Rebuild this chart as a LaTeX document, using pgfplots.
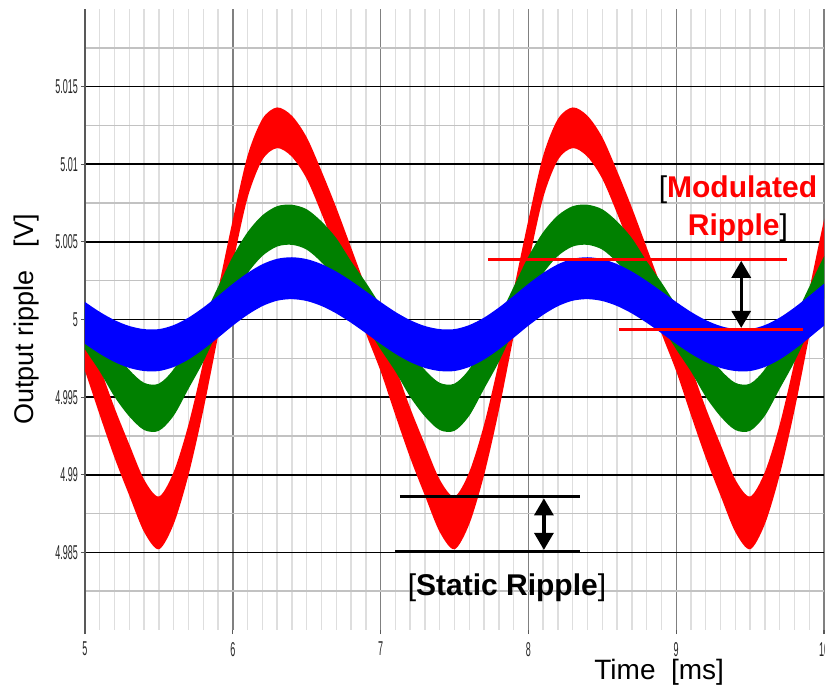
\documentclass[border=0pt]{standalone}
\usepackage{fontspec}
\setmainfont{Liberation Sans}
\usepackage{pgfplots}
\pgfplotsset{compat=1.18}
\usepackage{pgfplotstable}
\usepgfplotslibrary{fillbetween}
\usetikzlibrary{arrows.meta}

% x [ms]; upper / lower envelope of each ripple band [V]
\pgfplotstableread{
x    ru      rl      gu      gl      bu      bl
4.9  5.00209 4.99911 5.00239 4.99961 5.00182 4.99912
5.0  4.99973 4.99667 5.00092 4.99808 5.00113 4.99843
5.1  4.99697 4.99383 4.99955 4.99665 5.00049 4.99779
5.2  4.99431 4.99109 4.99798 4.99502 4.99996 4.99726
5.3  4.99195 4.98865 4.99675 4.99375 4.99958 4.99688
5.4  4.98969 4.98631 4.99592 4.99288 4.99938 4.99668
5.5  4.98860 4.98520 4.99587 4.99283 4.99938 4.99668
5.6  4.99018 4.98682 4.99680 4.99380 4.99964 4.99694
5.7  4.99323 4.98997 4.99847 4.99553 5.00012 4.99742
5.8  4.99727 4.99413 5.00013 4.99727 5.00077 4.99807
5.9  5.00189 4.99891 5.00210 4.99930 5.00152 4.99882
6.0  5.00642 5.00358 5.00406 5.00134 5.00230 4.99960
6.1  5.01056 5.00784 5.00563 5.00297 5.00300 5.00030
6.2  5.01292 5.01028 5.00671 5.00409 5.00356 5.00086
6.3  5.01366 5.01104 5.00730 5.00470 5.00391 5.00121
6.4  5.01312 5.01048 5.00739 5.00481 5.00401 5.00131
6.5  5.01174 5.00906 5.00710 5.00450 5.00389 5.00119
6.6  5.00957 5.00683 5.00632 5.00368 5.00357 5.00087
6.7  5.00721 5.00439 5.00524 5.00256 5.00309 5.00039
6.8  5.00465 5.00175 5.00376 5.00104 5.00249 4.99979
6.9  5.00209 4.99911 5.00239 4.99961 5.00182 4.99912
7.0  4.99973 4.99667 5.00092 4.99808 5.00113 4.99843
7.1  4.99697 4.99383 4.99955 4.99665 5.00049 4.99779
7.2  4.99431 4.99109 4.99798 4.99502 4.99996 4.99726
7.3  4.99195 4.98865 4.99675 4.99375 4.99958 4.99688
7.4  4.98969 4.98631 4.99592 4.99288 4.99938 4.99668
7.5  4.98860 4.98520 4.99587 4.99283 4.99938 4.99668
7.6  4.99018 4.98682 4.99680 4.99380 4.99964 4.99694
7.7  4.99323 4.98997 4.99847 4.99553 5.00012 4.99742
7.8  4.99727 4.99413 5.00013 4.99727 5.00077 4.99807
7.9  5.00189 4.99891 5.00210 4.99930 5.00152 4.99882
8.0  5.00642 5.00358 5.00406 5.00134 5.00230 4.99960
8.1  5.01056 5.00784 5.00563 5.00297 5.00300 5.00030
8.2  5.01292 5.01028 5.00671 5.00409 5.00356 5.00086
8.3  5.01366 5.01104 5.00730 5.00470 5.00391 5.00121
8.4  5.01312 5.01048 5.00739 5.00481 5.00401 5.00131
8.5  5.01174 5.00906 5.00710 5.00450 5.00389 5.00119
8.6  5.00957 5.00683 5.00632 5.00368 5.00357 5.00087
8.7  5.00721 5.00439 5.00524 5.00256 5.00309 5.00039
8.8  5.00465 5.00175 5.00376 5.00104 5.00249 4.99979
8.9  5.00209 4.99911 5.00239 4.99961 5.00182 4.99912
9.0  4.99973 4.99667 5.00092 4.99808 5.00113 4.99843
9.1  4.99697 4.99383 4.99955 4.99665 5.00049 4.99779
9.2  4.99431 4.99109 4.99798 4.99502 4.99996 4.99726
9.3  4.99195 4.98865 4.99675 4.99375 4.99958 4.99688
9.4  4.98969 4.98631 4.99592 4.99288 4.99938 4.99668
9.5  4.98860 4.98520 4.99587 4.99283 4.99938 4.99668
9.6  4.99018 4.98682 4.99680 4.99380 4.99964 4.99694
9.7  4.99323 4.98997 4.99847 4.99553 5.00012 4.99742
9.8  4.99727 4.99413 5.00013 4.99727 5.00077 4.99807
9.9  5.00189 4.99891 5.00210 4.99930 5.00152 4.99882
10.0 5.00642 5.00358 5.00406 5.00134 5.00230 4.99960
10.1 5.01056 5.00784 5.00563 5.00297 5.00300 5.00030
}\ripple

\definecolor{sgreen}{RGB}{0,128,0}

\begin{document}
\begin{tikzpicture}
\begin{axis}[
  scale only axis, width=369.5pt, height=310.5pt,
  xmin=5, xmax=10, ymin=4.98, ymax=5.02,
  xtick={5,6,7,8,9,10}, xticklabels={5,6,7,8,9,10},
  ytick={4.985,4.99,4.995,5,5.005,5.01,5.015},
  yticklabels={4.985,4.99,4.995,5,5.005,5.01,5.015},
  minor xtick={5.1,5.2,...,9.9},
  minor ytick={4.9825,4.9875,4.9925,4.9975,5.0025,5.0075,5.0125,5.0175},
  grid=both,
  major x grid style={black!50, line width=0.7pt},
  major y grid style={black, line width=0.8pt},
  minor x grid style={black!13, line width=0.7pt},
  minor y grid style={black!24, line width=0.7pt},
  axis x line*=bottom, axis y line*=left,
  x axis line style={draw=none},
  y axis line style={black!65, line width=1pt},
  tick align=outside, major tick length=2pt, minor tick length=0pt,
  tick style={black!65, line width=0.6pt},
  /pgf/number format/assume math mode=true,
  ticklabel style={font=\fontsize{10}{11}\selectfont, text=black!85, xscale=0.45},
  xticklabel style={yshift=-0.5pt},
  xlabel={Time\ \ [ms]},
  ylabel={Output ripple\ \ \ [V]},
  every axis x label/.style={at={(axis description cs:0.777,-0.068)}, anchor=center, font=\fontsize{14}{16}\selectfont},
  every axis y label/.style={at={(axis description cs:-0.0797,0.5)}, rotate=90, anchor=center, font=\fontsize{13.5}{16}\selectfont},
  clip mode=individual,
]
\addplot[draw=none, smooth, name path=ru] table[x=x, y=ru]{\ripple};
\addplot[draw=none, smooth, name path=rl] table[x=x, y=rl]{\ripple};
\addplot[red] fill between[of=ru and rl];
\addplot[draw=none, smooth, name path=gu] table[x=x, y=gu]{\ripple};
\addplot[draw=none, smooth, name path=gl] table[x=x, y=gl]{\ripple};
\addplot[sgreen] fill between[of=gu and gl];
\addplot[draw=none, smooth, name path=bu] table[x=x, y=bu]{\ripple};
\addplot[draw=none, smooth, name path=bl] table[x=x, y=bl]{\ripple};
\addplot[blue] fill between[of=bu and bl];

% Modulated ripple annotation
\draw[red, line width=1.6pt] (axis cs:7.73,5.00389) -- (axis cs:9.75,5.00389);
\draw[red, line width=1.6pt] (axis cs:8.61,4.99935) -- (axis cs:9.86,4.99935);
\draw[line width=1.6pt, {Triangle[width=9.5pt,length=8.5pt]}-{Triangle[width=9.5pt,length=8.5pt]}]
  (axis cs:9.44,5.00378) -- (axis cs:9.44,4.99946);
\node[align=center, font=\fontsize{15}{19}\selectfont] at (axis cs:9.418,5.00712)
  {[\textcolor{red}{\textbf{Modulated}}\\\textcolor{red}{\textbf{Ripple}}]};

% Static ripple annotation
\draw[black, line width=1.7pt] (axis cs:7.13,4.98860) -- (axis cs:8.35,4.98860);
\draw[black, line width=1.7pt] (axis cs:7.10,4.98504) -- (axis cs:8.35,4.98504);
\draw[line width=1.6pt, {Triangle[width=9.5pt,length=8.5pt]}-{Triangle[width=9.5pt,length=8.5pt]}]
  (axis cs:8.105,4.98848) -- (axis cs:8.105,4.98516);
\node[font=\fontsize{15}{19}\selectfont] at (axis cs:7.855,4.98272)
  {[\textbf{Static Ripple}]};
\end{axis}
\pgfresetboundingbox
\useasboundingbox (-42.5pt,-28pt) rectangle (370pt,315pt);
\end{tikzpicture}
\end{document}
